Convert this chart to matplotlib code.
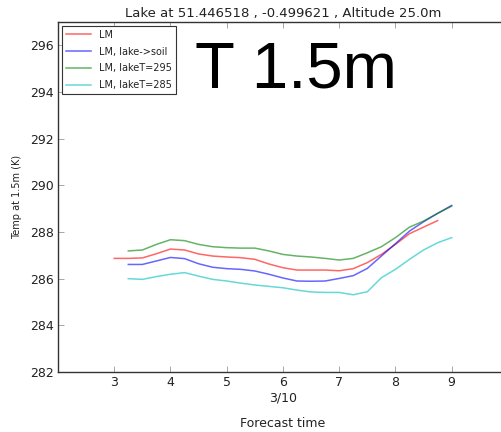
"""Lake T 1.5m forecast comparison."""
import matplotlib
matplotlib.use("Agg")
import matplotlib.pyplot as plt  # noqa: E402

# forecast time (day of month), every 6 h
x_lm = [3.0, 3.25, 3.5, 3.75, 4.0, 4.25, 4.5, 4.75, 5.0, 5.25, 5.5, 5.75,
        6.0, 6.25, 6.5, 6.75, 7.0, 7.25, 7.5, 7.75, 8.0, 8.25, 8.5, 8.75]
x_exp = [3.25, 3.5, 3.75, 4.0, 4.25, 4.5, 4.75, 5.0, 5.25, 5.5, 5.75, 6.0,
         6.25, 6.5, 6.75, 7.0, 7.25, 7.5, 7.75, 8.0, 8.25, 8.5, 8.75, 9.0]

t_lm = [286.87, 286.87, 286.89, 287.07, 287.27, 287.23, 287.06, 286.97,
        286.93, 286.90, 286.83, 286.63, 286.47, 286.37, 286.37, 286.37,
        286.34, 286.43, 286.69, 287.04, 287.47, 287.93, 288.21, 288.49]
t_soil = [286.61, 286.61, 286.76, 286.91, 286.86, 286.64, 286.49, 286.43,
          286.40, 286.33, 286.19, 286.03, 285.90, 285.89, 285.90, 286.01,
          286.13, 286.44, 286.97, 287.50, 288.04, 288.44, 288.80, 289.14]
t_295 = [287.19, 287.23, 287.47, 287.67, 287.63, 287.47, 287.37, 287.33,
         287.31, 287.31, 287.19, 287.04, 286.97, 286.93, 286.87, 286.80,
         286.87, 287.11, 287.37, 287.76, 288.21, 288.47, 288.80, 289.11]
t_285 = [286.00, 285.97, 286.09, 286.19, 286.26, 286.11, 285.97, 285.90,
         285.81, 285.73, 285.67, 285.61, 285.51, 285.43, 285.41, 285.41,
         285.31, 285.44, 286.04, 286.40, 286.83, 287.23, 287.54, 287.76]

xticks = [3, 4, 5, 6, 7, 8, 9]
xticklabels = ["3", "4", "5", "6\n3/10", "7", "8", "9"]
yticks = [282, 284, 286, 288, 290, 292, 294, 296]

TXT = "#222222"

fig = plt.figure(figsize=(5.01, 4.32), dpi=100)
ax = fig.add_axes([0.1158, 0.1389, 0.898, 0.810])

ax.plot(x_lm, t_lm, color="red", alpha=0.6, lw=1.1, label="LM")
ax.plot(x_exp, t_soil, color="blue", alpha=0.6, lw=1.1, label="LM, lake->soil")
ax.plot(x_exp, t_295, color="green", alpha=0.6, lw=1.1, label="LM, lakeT=295")
ax.plot(x_exp, t_285, color="c", alpha=0.6, lw=1.1, label="LM, lakeT=285")

ax.set_xlim(2, 10)
ax.set_ylim(282, 297)
ax.set_xticks(xticks)
ax.set_xticklabels(xticklabels)
ax.set_yticks(yticks)
ax.tick_params(direction="in", top=True, right=True, length=4, width=0.6,
               color="#999999", labelsize=9, labelcolor=TXT, pad=3)
for s in ax.spines.values():
    s.set_color("#333333")
    s.set_linewidth(1.0)

ax.set_title("Lake at 51.446518 , -0.499621 , Altitude 25.0m",
             fontsize=9.5, color=TXT, pad=4)
ax.set_ylabel("Temp at 1.5m (K)", fontsize=7, color=TXT, labelpad=6)
ax.set_xlabel("Forecast time", fontsize=9, color=TXT, labelpad=9)

leg = ax.legend(loc="upper left", fontsize=7, handlelength=2.6,
                borderaxespad=0.4, labelspacing=0.7, fancybox=False,
                framealpha=1)
leg.get_frame().set_edgecolor("#333333")
leg.get_frame().set_linewidth(0.8)
for t in leg.get_texts():
    t.set_color(TXT)

fig.text(0.39, 1 - 87 / 432, "T 1.5m", fontsize=47, color="black",
         family="Liberation Sans", va="baseline")

fig.savefig("out.png", dpi=100)
